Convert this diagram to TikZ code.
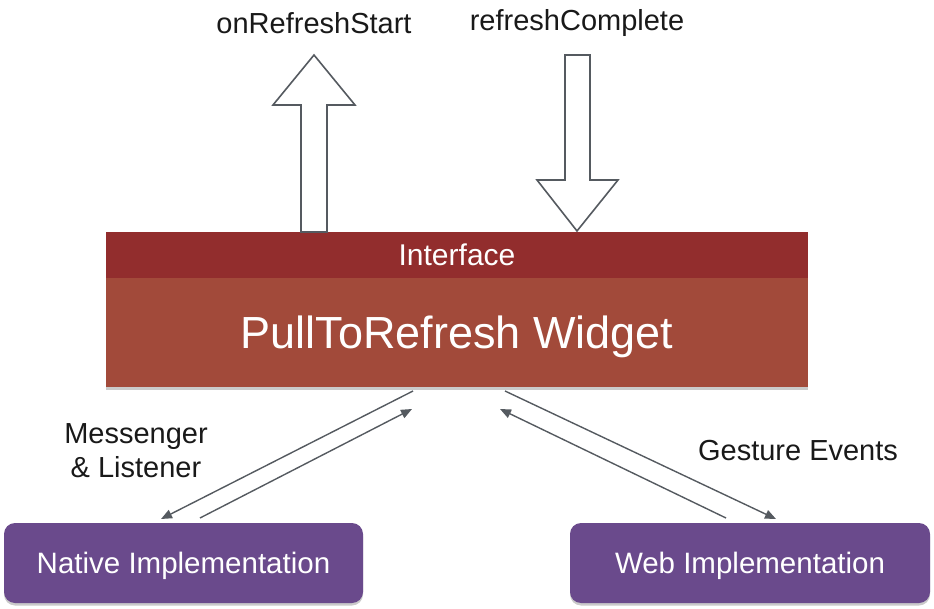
\documentclass[tikz,border=0pt]{standalone}
\usepackage{fontspec}
\setmainfont{Liberation Sans}
\usetikzlibrary{arrows.meta,shadows}
\definecolor{ifacered}{HTML}{922D2D}
\definecolor{widgetred}{HTML}{A24A3A}
\definecolor{implpurple}{HTML}{6A4A8C}
\definecolor{linegray}{HTML}{555A60}
\tikzset{
  lbl/.style={text=black!90, font=\fontsize{29}{34}\selectfont, inner sep=0pt},
  boxshadow/.style={drop shadow={shadow xshift=0pt, shadow yshift=-2.5pt, opacity=0.35, fill=black!60}},
  ifacebox/.style={fill=ifacered, text=white, minimum width=702pt, minimum height=46pt, inner sep=0pt, text depth=0pt, font=\fontsize{30}{34}\selectfont},
  widgetbox/.style={fill=widgetred, text=white, minimum width=702pt, minimum height=109pt, inner sep=0pt, text depth=0pt, font=\fontsize{45}{50}\selectfont, boxshadow},
  implbox/.style={fill=implpurple, text=white, minimum width=359pt, minimum height=80pt, rounded corners=11pt, inner sep=0pt, text depth=0pt, font=\fontsize{29.5}{34}\selectfont, boxshadow},
  blockarrow/.style={draw=linegray, line width=1.6pt, fill=white, line join=miter},
  thinarrow/.style={draw=linegray, line width=1.4pt, -{Triangle[length=11pt,width=9pt]}},
}
\begin{document}
\begin{tikzpicture}[x=1pt,y=-1pt]
\useasboundingbox (0,0) rectangle (934,609);
% main boxes
\node[widgetbox] (widget) at (457,332.5) {PullToRefresh Widget};
\node[ifacebox] (iface) at (457,255) {Interface};
\node[implbox] (native) at (183.5,563) {Native Implementation};
\node[implbox, minimum width=360pt] (web) at (750,563) {Web Implementation};
% labels
\node[lbl] (lstart) at (314,23) {onRefreshStart};
\node[lbl] (lcomplete) at (577,23) {refreshComplete};
\node[lbl, align=center] (lmsg) at (136,451) {Messenger\\\& Listener};
\node[lbl] (lgest) at (798,451) {Gesture Events};
% block arrows
\coordinate (upbase) at (314,232);
\draw[blockarrow] ([xshift=-13pt]upbase) -- (301,105) -- (273,105) -- (314,55) -- (355,105) -- (327,105) -- ([xshift=13pt]upbase) -- cycle;
\coordinate (downtip) at (577,231);
\draw[blockarrow] (565,55) -- (590,55) -- (590,180) -- (618,180) -- (downtip) -- (537,180) -- (565,180) -- cycle;
% thin arrows
\coordinate (a1s) at (413,391);
\coordinate (a1e) at (161,519);
\coordinate (a2s) at (200,518);
\coordinate (a2e) at (412,409);
\coordinate (b1s) at (505,391);
\coordinate (b1e) at (776,519);
\coordinate (b2s) at (726,518);
\coordinate (b2e) at (500,409);
\draw[thinarrow] (a1s) -- (a1e);
\draw[thinarrow] (a2s) -- (a2e);
\draw[thinarrow] (b1s) -- (b1e);
\draw[thinarrow] (b2s) -- (b2e);
\end{tikzpicture}
\end{document}
